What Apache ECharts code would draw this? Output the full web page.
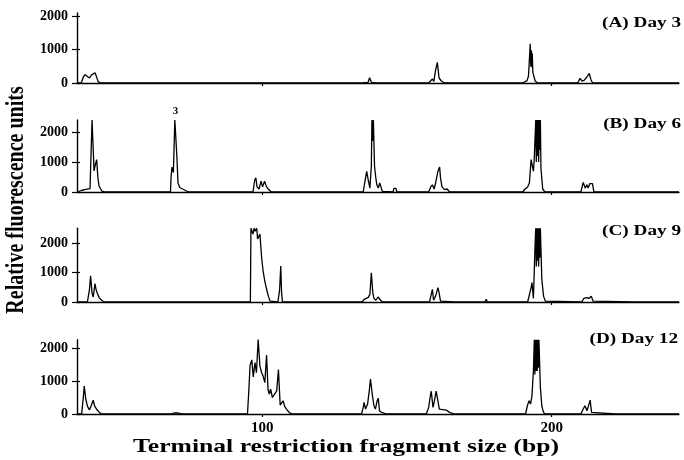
<!DOCTYPE html>
<html>
<head>
<meta charset="utf-8">
<script src="https://cdn.jsdelivr.net/npm/echarts@6/dist/echarts.min.js"></script>
<style>html,body{margin:0;padding:0;background:#fff}#c{width:684px;height:460px}</style>
</head>
<body>
<div id="c"></div>
<script>
// ---- Data (bp size, relative fluorescence units) ----
const sizeA = [36,37.5,38.2,38.8,39.4,40.3,40.9,41.5,42.2,42.7,43.3,44.2,
  83.5,84,84.5, 99.5,100,100.5, 115.5,116,116.5,
  134.4,134.9,135.4,136.5,137.1,137.7,139.2,139.8,140.4,
  157.5,158.8,159.3,159.8,160.5,161.1,161.9,162.5,163,
  190,191.5,192,192.6,192.8,193,193.2,193.3,193.5,193.7,194.3,194.7,195.2,
  209,209.8,210.5,211.2,212.2,213,213.6,214.2,
  244];
const rfuA = [0,10,180,250,200,150,230,200,310,200,40,0,
  0,30,0, 0,25,0, 0,20,0,
  0,40,10,10,160,20,0,50,0,
  0,120,50,340,620,150,60,20,0,
  0,70,210,1180,490,980,470,890,320,300,60,20,0,
  0,140,60,80,180,290,90,0,
  0];

const sizeB = [36,37.5,39,40.5,41.2,41.9,42.3,42.8,43.2,43.6,44.5,45.5,
  58.5,58.8,59.1,
  68.3,68.5,68.8,69.3,69.8,70.1,70.5,70.9,71.5,72.5,73.5,74.5,
  96.8,97.4,97.8,98.2,98.9,99.6,100.1,100.8,101.5,102.1,103.1,
  106.3,106.6,106.9,
  134.9,135.5,136.1,136.6,137.2,137.7,137.9,138.1,138.4,138.6,138.8,139.2,139.6,140.1,140.6,141,141.5,142,
  145.2,145.5,146.2,146.5,
  157.5,158.2,158.8,159.4,159.9,160.7,161.3,161.6,162.1,163,163.9,164.7,
  179.1,179.4,179.7, 185.7,186,186.3,
  190,190.8,191.7,192.3,192.9,193.3,193.7,194,194.5,194.7,194.9,195.1,195.3,195.5,195.7,195.9,196.1,196.3,196.9,197.7,
  210.1,210.9,211.6,212.2,212.6,213.2,214.1,214.6,
  227.3,227.6,227.9,
  244];
const rfuB = [0,50,90,110,2400,700,900,1080,500,200,40,0,
  0,20,0,
  0,500,830,650,2400,2400,1200,300,150,100,50,0,
  0,400,470,170,100,360,170,360,170,100,0,
  0,50,0,
  0,360,690,410,130,860,2400,1700,2400,2400,860,500,240,130,300,300,20,0,
  0,120,120,0,
  0,170,240,100,300,690,830,470,170,80,100,0,
  0,50,0, 0,40,0,
  0,100,170,300,1080,1130,690,1130,2400,1000,2400,1200,2400,1000,2400,1400,2400,800,100,0,
  0,320,130,240,130,280,280,0,
  0,20,0,
  0];

const sizeC = [36,
  39.6,40.3,40.7,41.2,41.6,42.2,42.6,43,43.7,44.5,45.3,
  90.2,90.5,90.8,
  95.9,96.1,96.4,96.8,97.2,97.6,98.1,98.4,98.8,99.2,99.8,100.3,100.9,101.5,102.1,102.7,103,
  105.4,106,106.4,106.7,107,
  113.7,114,114.3, 120.5,120.8,121.1,
  134.5,135.2,135.9,136.6,137.2,137.7,138.2,138.6,139.3,140,140.5,140.9,141.6,
  143.2,143.5,144.5,145.5,145.8,146.6,147.5,147.8,148.5,
  157.8,158.4,158.8,159.2,159.9,160.7,161,161.6,162,
  166.2,166.5,166.8,172.5,172.8,173.1,177,177.4,177.8,180.5,180.8,181.1,
  191.7,192.3,192.9,193.2,193.7,194.2,194.5,194.7,194.9,195.1,195.3,195.5,195.7,195.9,196.1,196.6,197.2,197.8,198.2,
  210.4,211.1,211.6,212.2,212.9,213.7,214.3,214.7,
  228,228.3,228.6,232,232.3,232.6,236.5,236.8,237.1,
  244];
const rfuC = [0,
  0,420,890,300,170,620,420,300,140,60,0,
  0,20,0,
  0,2500,2500,2300,2500,2400,2500,2140,2200,2300,1500,1050,700,440,200,30,0,
  0,400,1220,300,0,
  0,20,0, 0,20,0,
  0,90,120,150,260,990,320,120,60,170,200,60,0,
  0,30,0,0,30,0,0,25,0,
  0,260,430,60,200,490,370,30,0,
  0,20,0,0,20,0,0,90,0,0,20,0,
  0,60,490,660,120,1730,2500,1200,2500,1400,2500,1200,2500,1500,2500,770,200,30,0,
  0,120,60,150,120,200,30,0,
  0,20,0,0,20,0,0,20,0,
  0];

const sizeD = [36,
  37.6,38.2,38.5,39,39.6,40.3,41,41.6,42.1,42.5,43,43.8,44.6,
  68.5,69.5,71,72.3,
  94.9,95.3,95.8,96.4,96.9,97.5,98,98.6,99.2,99.8,100.3,100.9,101.5,102,102.4,102.9,103.5,104.1,105,105.6,106.2,106.7,107.2,107.8,108.6,109.4,110.3,
  134.3,134.9,135.2,135.7,136.4,137,137.4,138,138.6,139.1,139.7,140.1,140.5,141.2,141.8,
  143,143.3,143.6,146,146.3,146.6,
  156.7,157.5,158.1,158.4,159,159.5,160.1,160.6,161.2,161.8,163.6,164.7,166.5,
  191,191.6,192.2,192.7,193.2,193.7,194,194.2,194.4,194.6,194.8,195,195.2,195.4,195.6,195.8,196.1,196.6,197.1,197.6,
  210.1,210.9,211.5,212.2,212.9,213.3,213.8,214.2,
  222,222.3,222.6,230,230.3,230.6,238,238.3,238.6,
  244];
const rfuD = [0,
  0,520,850,470,240,120,270,420,240,270,120,40,0,
  0,30,30,0,
  0,600,1480,1640,1120,1560,1250,2260,1450,1250,1150,950,1790,750,600,750,500,460,700,1350,270,320,400,220,120,40,0,
  0,200,350,150,300,710,1060,610,250,150,400,480,100,50,0,
  0,25,0,0,25,0,
  0,200,560,690,200,400,690,660,150,120,120,50,0,
  0,250,400,300,560,1310,2250,1200,2250,1300,2250,1300,2250,1400,2250,2250,810,250,70,0,
  0,150,250,100,300,420,50,0,
  0,20,0,0,20,0,0,20,0,
  0];

const yTicks = [0, 1000, 2000];
const xTicks = [100, 200];
const xRange = [36, 244];
const yMaxes = [2100, 2400, 2500, 2250];
const panelLabels = ['(A) Day 3', '(B) Day 6', '(C) Day 9', '(D) Day 12'];
const peakNote = { bp: 70.0, rfu: 2400, text: '3' };
const xTitle = 'Terminal restriction fragment size (bp)';
const yTitle = 'Relative fluorescence units';

// ---- Layout / styling ----
const FONT = '"Liberation Serif", "Times New Roman", serif';
const gridBoxes = [
  { top: 13, height: 70 },
  { top: 120, height: 72 },
  { top: 228.25, height: 73.75 },
  { top: 339.75, height: 74.25 }
];
const labelY = [23, 124, 231, 339];
const labelRight = [681, 681, 681, 678];

const sizes = [sizeA, sizeB, sizeC, sizeD];
const rfus = [rfuA, rfuB, rfuC, rfuD];

const black = '#000';
const plain = v => String(v);
const grid = gridBoxes.map(g => ({ left: 77, right: 5, top: g.top, height: g.height, outerBoundsMode: 'none', containLabel: false }));

const xAxis = gridBoxes.map((g, i) => ({
  type: 'value', gridIndex: i, min: xRange[0], max: xRange[1],
  axisLine: { show: true, onZero: false, lineStyle: { color: black, width: 1.3 } },
  axisTick: { show: true, customValues: xTicks, length: 3, lineStyle: { color: black, width: 1.2 } },
  axisLabel: { show: i === 3, customValues: xTicks, formatter: plain, margin: 7, color: black, fontFamily: FONT, fontWeight: 'bold', fontSize: 15 },
  splitLine: { show: false }
}));

const yAxis = [];
gridBoxes.forEach((g, i) => {
  yAxis.push({
    type: 'value', gridIndex: i, position: 'left', min: 0, max: yMaxes[i],
    axisLine: { show: true, onZero: false, lineStyle: { color: black, width: 1.4 } },
    axisTick: { show: true, customValues: yTicks, length: 5, lineStyle: { color: black, width: 1.2 } },
    axisLabel: { show: true, customValues: yTicks, formatter: plain, margin: 9, color: black, fontFamily: FONT, fontWeight: 'bold', fontSize: 14 },
    splitLine: { show: false }
  });
  yAxis.push({
    type: 'value', gridIndex: i, position: 'left', min: 0, max: yMaxes[i],
    axisLine: { show: false, onZero: false },
    axisTick: { show: true, inside: true, customValues: yTicks, length: 3, lineStyle: { color: black, width: 1.2 } },
    axisLabel: { show: false },
    splitLine: { show: false }
  });
});

const series = sizes.map((s, i) => {
  const ser = {
    type: 'line', xAxisIndex: i, yAxisIndex: 2 * i,
    data: s.map((x, j) => [x, rfus[i][j]]),
    symbol: 'none', clip: true, silent: true, animation: false,
    lineStyle: { color: black, width: 1.3 }
  };
  if (i === 1) {
    ser.markPoint = {
      symbol: 'circle', symbolSize: 0, silent: true, animation: false,
      data: [{ coord: [peakNote.bp, peakNote.rfu] }],
      label: { show: true, position: 'top', distance: 3, formatter: peakNote.text, color: black, fontFamily: FONT, fontWeight: 'bold', fontSize: 11 }
    };
  }
  return ser;
});

const graphic = panelLabels.map((t, i) => ({
  type: 'text', x: labelRight[i], y: labelY[i], scaleX: 1.28, silent: true,
  style: { text: t, font: 'bold 15px ' + FONT, fill: black, align: 'right', verticalAlign: 'middle' }
}));
graphic.push({
  type: 'text', x: 346, y: 447, scaleX: 1.35, silent: true,
  style: { text: xTitle, font: 'bold 19px ' + FONT, fill: black, align: 'center', verticalAlign: 'middle' }
});
graphic.push({
  type: 'text', x: 16, y: 200, rotation: Math.PI / 2, scaleY: 1.3, silent: true,
  style: { text: yTitle, font: 'bold 20px ' + FONT, fill: black, align: 'center', verticalAlign: 'middle' }
});

const chart = echarts.init(document.getElementById('c'), null, { renderer: 'canvas' });
chart.setOption({
  animation: false,
  backgroundColor: '#fff',
  grid, xAxis, yAxis, series, graphic
});
</script>
</body>
</html>
